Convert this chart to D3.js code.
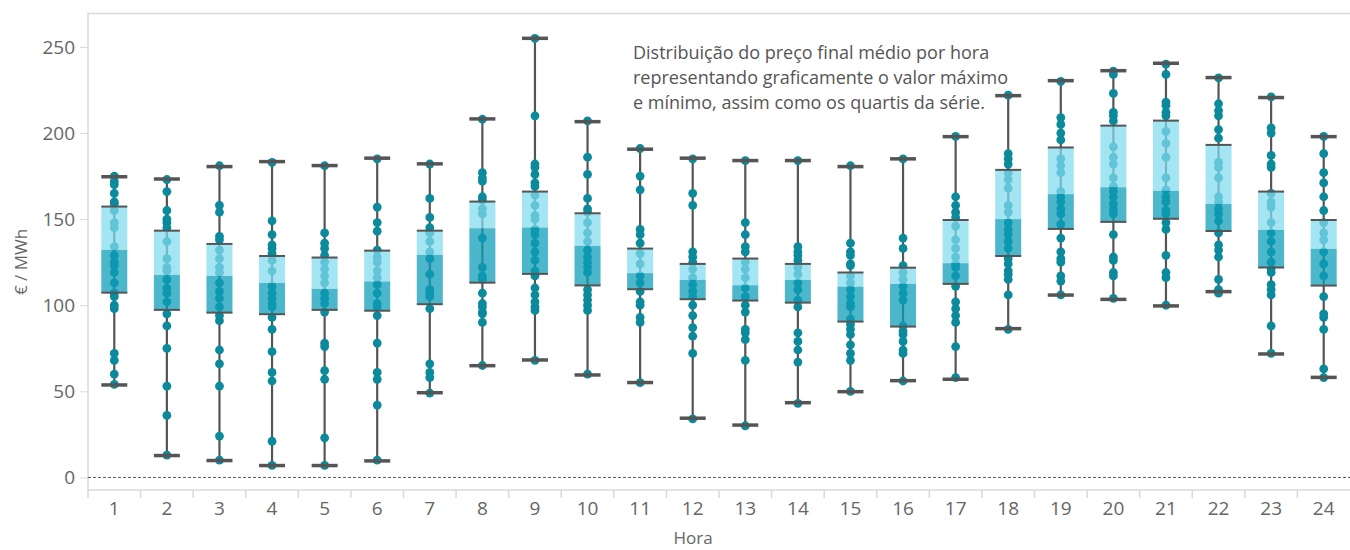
<!DOCTYPE html>
<html>
<head>
<meta charset="utf-8">
<script src="https://cdn.jsdelivr.net/npm/d3@7"></script>
<style>
body { margin: 0; background: #fff; }
text { font-family: "Open Sans", "Noto Sans", sans-serif; }
</style>
</head>
<body>
<script>
var width = 1350, height = 550;

var hours = [1,2,3,4,5,6,7,8,9,10,11,12,13,14,15,16,17,18,19,20,21,22,23,24];
var minV = [53.7,12.7,9.8,6.9,6.9,9.6,49.2,64.9,68.2,59.5,55.1,34.4,30.4,43.4,49.8,56.2,57.0,86.4,105.9,103.4,99.6,107.9,71.7,58.1];
var q1V  = [107.3,97.3,95.7,94.8,97.3,96.8,100.6,113.1,118.2,111.5,109.3,103.5,102.7,101.5,90.5,87.6,112.4,128.6,144.3,148.4,150.2,143.1,121.9,111.4];
var medV = [132.1,117.6,117.0,112.9,109.5,113.8,129.2,144.7,145.1,134.5,118.6,114.7,111.6,114.7,110.8,112.4,124.4,150.0,164.5,168.5,166.4,158.8,143.7,132.7];
var q3V  = [157.3,143.3,135.6,128.6,127.7,131.7,143.3,160.2,166.0,153.4,132.9,124.0,127.1,124.0,119.0,121.8,149.5,178.6,191.6,204.3,207.2,193.1,166.0,149.5];
var maxV = [174.6,173.3,180.5,183.4,181.1,185.4,182.1,208.2,255.0,206.6,190.6,185.4,184.0,184.0,180.5,185.0,197.9,221.7,230.4,236.2,240.5,232.2,220.6,197.9];

// preços diários por hora (pontos)
var dots = [
  [175,172,170,165,160,159,155,148,145,134,129,125,123,119,113,107,105,100,98,72,68,60,54],
  [173,166,155,150,148,145,137,127,122,120,115,110,107,102,95,88,75,53,36,13],
  [181,158,154,140,138,132,127,122,119,113,108,104,99,94,91,74,66,53,24,10],
  [183,149,141,135,133,130,126,120,111,107,104,101,99,93,86,73,61,56,21,7],
  [181,142,136,133,129,125,121,117,113,107,104,101,96,78,76,62,57,23,7],
  [185,157,148,143,132,128,125,120,116,112,107,101,99,94,78,61,57,42,10],
  [182,162,151,145,142,137,131,127,118,109,107,105,98,66,61,58,49],
  [208,177,174,172,163,161,156,153,139,122,117,115,107,101,99,96,95,90,65],
  [255,210,182,180,176,171,169,164,158,152,150,144,141,136,131,126,120,117,110,106,102,99,97,68],
  [207,186,176,162,156,154,148,142,137,132,128,125,122,119,109,106,103,100,97,60],
  [191,175,167,144,141,136,130,124,117,113,108,102,100,93,90,55],
  [185,165,158,131,128,125,121,116,112,108,105,100,94,87,82,72,34],
  [184,148,141,134,131,125,121,116,110,105,100,96,86,84,80,68,30],
  [184,134,131,129,126,122,118,113,109,103,99,84,79,74,67,43],
  [181,136,131,129,124,123,117,113,109,105,101,99,92,89,86,83,77,72,68,50],
  [185,139,133,123,119,115,111,107,103,88,85,83,79,74,72,56],
  [198,163,158,154,151,146,138,133,128,124,122,117,111,102,98,94,90,76,58],
  [222,188,185,182,177,173,168,158,154,148,144,141,137,133,127,124,120,118,115,106,86],
  [230,209,205,200,196,185,181,177,166,163,160,156,153,147,139,131,127,125,117,114,106],
  [236,234,223,212,210,207,192,186,182,174,169,166,163,159,156,153,141,128,126,119,117,104],
  [240,234,218,216,212,210,201,194,186,174,167,163,160,155,153,148,144,129,119,116,100],
  [232,217,213,210,202,197,183,180,174,163,160,156,153,149,142,135,132,128,115,109,108,107],
  [221,203,200,187,182,180,165,160,157,148,142,137,131,125,121,119,112,109,106,88,72],
  [198,188,177,171,163,155,148,142,138,131,124,117,105,95,93,86,63,58]
];
var yTicks = [0,50,100,150,200,250];
var note = ["Distribuição do preço final médio por hora",
            "representando graficamente o valor máximo",
            "e mínimo, assim como os quartis da série."];

var plotL = 88, plotR = 1350, plotT = 13, plotB = 490;

var svg = d3.select("body").append("svg")
  .attr("width", width).attr("height", height);

var x = d3.scaleBand().domain(hours).range([plotL, plotR]);
var y = d3.scaleLinear().domain([-7.3, 269.7]).range([plotB, plotT]);

var boxW = 26;
var cx = function(i) { return x(hours[i]) + x.bandwidth() / 2; };

// frame
svg.append("line").attr("x1", plotL).attr("x2", plotR).attr("y1", plotT + 0.5).attr("y2", plotT + 0.5)
  .attr("stroke", "#d9d9d9").attr("stroke-width", 1.5);

// y axis
var yAxis = svg.append("g")
  .attr("transform", "translate(" + plotL + ",0)")
  .call(d3.axisLeft(y).tickValues(yTicks).tickSize(8).tickPadding(5));
yAxis.select(".domain").attr("stroke", "#d9d9d9").attr("stroke-width", 1.5)
  .attr("d", "M0," + plotT + "V" + plotB);
yAxis.selectAll(".tick line").attr("stroke", "#d9d9d9");
yAxis.selectAll(".tick text").attr("fill", "#666").style("font-size", "19px");

// x axis
var xAxis = svg.append("g")
  .attr("transform", "translate(0," + plotB + ")")
  .call(d3.axisBottom(x).tickSize(0).tickPadding(12));
xAxis.select(".domain").attr("stroke", "#d9d9d9").attr("stroke-width", 1.5)
  .attr("d", "M" + plotL + ",0H" + plotR);
xAxis.selectAll(".tick text").attr("fill", "#666").style("font-size", "19px");
xAxis.selectAll(".sep").data(hours).enter().append("line")
  .attr("x1", function(d) { return x(d); }).attr("x2", function(d) { return x(d); })
  .attr("y1", 0).attr("y2", 8).attr("stroke", "#d9d9d9").attr("stroke-width", 1.5);

// titles
svg.append("text").attr("x", 693).attr("y", 544)
  .attr("text-anchor", "middle").attr("fill", "#666").style("font-size", "17px").text("Hora");
svg.append("text").attr("transform", "translate(27,262) rotate(-90)")
  .attr("text-anchor", "middle").attr("fill", "#666").style("font-size", "17px").text("€ / MWh");

// zero line
svg.append("line").attr("x1", plotL).attr("x2", plotR).attr("y1", y(0)).attr("y2", y(0))
  .attr("stroke", "#555").attr("stroke-width", 1).attr("stroke-dasharray", "3,2");

var g = svg.append("g");

// whiskers
g.selectAll(".whisker").data(hours).enter().append("line")
  .attr("x1", function(d, i) { return cx(i); }).attr("x2", function(d, i) { return cx(i); })
  .attr("y1", function(d, i) { return y(minV[i]); }).attr("y2", function(d, i) { return y(maxV[i]); })
  .attr("stroke", "#555").attr("stroke-width", 2.2);

// points
dots.forEach(function(arr, i) {
  g.selectAll(".dot" + i).data(arr).enter().append("circle")
    .attr("cx", cx(i)).attr("cy", function(d) { return y(d); })
    .attr("r", 4.4).attr("fill", "#0b8a9b");
});

// boxes
g.selectAll(".upper").data(hours).enter().append("rect")
  .attr("x", function(d, i) { return cx(i) - boxW / 2; })
  .attr("width", boxW)
  .attr("y", function(d, i) { return y(q3V[i]); })
  .attr("height", function(d, i) { return y(medV[i]) - y(q3V[i]); })
  .attr("fill", "#81dced").attr("fill-opacity", 0.73);
g.selectAll(".lower").data(hours).enter().append("rect")
  .attr("x", function(d, i) { return cx(i) - boxW / 2; })
  .attr("width", boxW)
  .attr("y", function(d, i) { return y(medV[i]); })
  .attr("height", function(d, i) { return y(q1V[i]) - y(medV[i]); })
  .attr("fill", "#0d9cb7").attr("fill-opacity", 0.74);

// quartile edges
[q1V, q3V].forEach(function(arr, k) {
  g.selectAll(".qline" + k).data(hours).enter().append("line")
    .attr("x1", function(d, i) { return cx(i) - boxW / 2; })
    .attr("x2", function(d, i) { return cx(i) + boxW / 2; })
    .attr("y1", function(d, i) { return y(arr[i]); })
    .attr("y2", function(d, i) { return y(arr[i]); })
    .attr("stroke", "#555").attr("stroke-width", 2);
});

// caps
[minV, maxV].forEach(function(arr, k) {
  g.selectAll(".cap" + k).data(hours).enter().append("line")
    .attr("x1", function(d, i) { return cx(i) - boxW / 2; })
    .attr("x2", function(d, i) { return cx(i) + boxW / 2; })
    .attr("y1", function(d, i) { return y(arr[i]); })
    .attr("y2", function(d, i) { return y(arr[i]); })
    .attr("stroke", "#555").attr("stroke-width", 3.5);
});

// annotation
svg.append("text").attr("x", 633).attr("y", 59)
  .attr("fill", "#555").style("font-size", "18px")
  .selectAll("tspan").data(note).enter().append("tspan")
  .attr("x", 633).attr("dy", function(d, i) { return i ? 25 : 0; })
  .text(function(d) { return d; });
</script>
</body>
</html>
